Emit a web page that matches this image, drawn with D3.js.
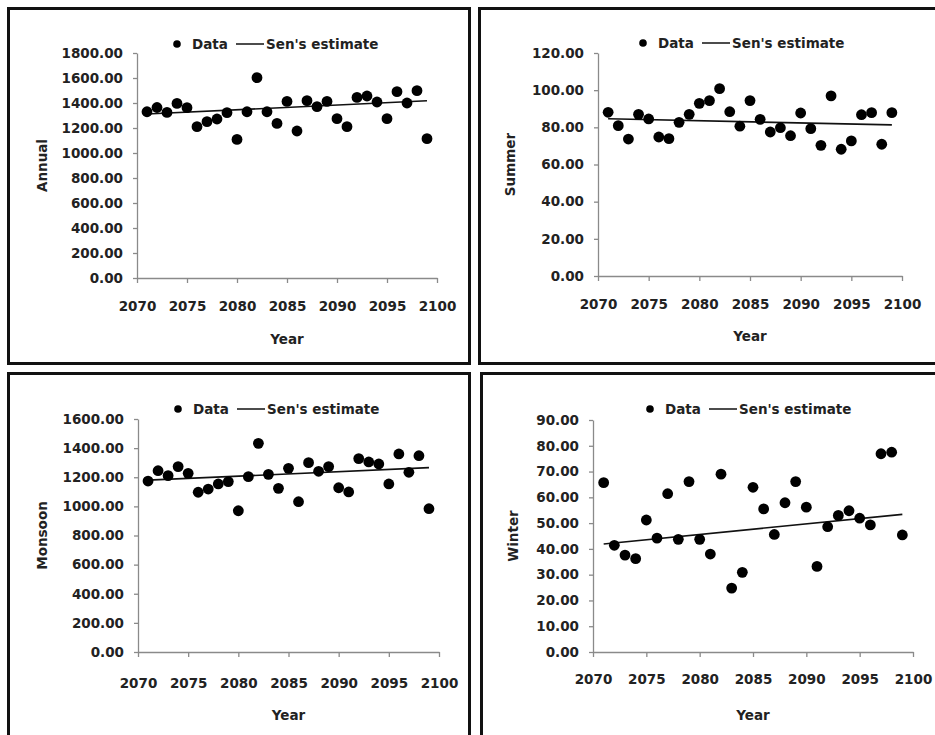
<!DOCTYPE html>
<html lang="en">
<head>
    <meta charset="UTF-8">
    <title>Sen's estimate - Annual, Summer, Monsoon, Winter</title>
    <script src="https://d3js.org/d3.v7.min.js"></script>
    <style>
        body { margin: 0; background: #fff; }
        svg { display: block; font-family: "DejaVu Sans", sans-serif; font-weight: bold; }
        .tick text { font-size: 13.5px; fill: #222; font-family: "DejaVu Sans", sans-serif; font-weight: bold; }
        .axis path, .axis line { stroke: #8a8a8a; stroke-width: 1.3px; }
    </style>
</head>
<body>
<svg width="935" height="735"></svg>
<script>
    // years 2071-2099
    const years = d3.range(2071, 2100);
    const xTicks = [2070, 2075, 2080, 2085, 2090, 2095, 2100];

    const annual = [1330, 1364, 1325, 1397, 1363, 1211, 1251, 1272, 1323, 1109,
                    1330, 1603, 1330, 1237, 1413, 1176, 1419, 1371, 1413, 1275,
                    1211, 1445, 1456, 1408, 1275, 1491, 1400, 1499, 1115];
    const summer = [88.1, 80.9, 73.7, 87.0, 84.5, 74.8, 73.9, 82.7, 87.0, 92.9,
                    94.4, 100.8, 88.4, 80.6, 94.4, 84.3, 77.5, 79.8, 75.5, 87.7,
                    79.3, 70.3, 96.9, 68.2, 72.7, 86.8, 87.9, 70.9, 87.9];
    const monsoon = [1174, 1245, 1211, 1273, 1227, 1097, 1119, 1154, 1170, 970,
                     1204, 1433, 1220, 1124, 1261, 1032, 1300, 1241, 1273, 1128,
                     1099, 1328, 1305, 1291, 1154, 1360, 1234, 1348, 984];
    const winter = [65.7, 41.4, 37.6, 36.2, 51.2, 44.2, 61.4, 43.7, 66.1, 43.7,
                    38.0, 69.0, 24.8, 30.9, 63.9, 55.5, 45.6, 57.9, 66.1, 56.2,
                    33.2, 48.6, 53.0, 54.8, 51.9, 49.3, 76.9, 77.5, 45.4];

    // Sen's estimate: value at 2071 and 2099
    const senAnnual = [1312, 1418];
    const senSummer = [84.6, 81.3];
    const senMonsoon = [1180, 1266];
    const senWinter = [41.9, 53.4];

    const ticksAnnual = d3.range(0, 1801, 200);
    const ticksSummer = d3.range(0, 121, 20);
    const ticksMonsoon = d3.range(0, 1601, 200);
    const ticksWinter = d3.range(0, 91, 10);

    const svg = d3.select("svg");

    // panel frames
    const frames = [
        [8.5, 8.5, 461, 355],
        [479.5, 8.5, 470, 355],
        [8.5, 373.5, 461, 380],
        [481.5, 373.5, 470, 380]
    ];
    svg.selectAll(".frame").data(frames).enter().append("rect")
        .attr("class", "frame")
        .attr("x", d => d[0]).attr("y", d => d[1])
        .attr("width", d => d[2]).attr("height", d => d[3])
        .attr("fill", "none").attr("stroke", "#111").attr("stroke-width", 3);

    const panels = [
        {title: "Annual", values: annual, sen: senAnnual, yTicks: ticksAnnual,
         left: 137, right: 437, top: 53, bottom: 278, legX: 177, legY: 44,
         titleX: 42, xPad: 18, yearY: 344},
        {title: "Summer", values: summer, sen: senSummer, yTicks: ticksSummer,
         left: 598, right: 902, top: 53, bottom: 276, legX: 643, legY: 43,
         titleX: 510, xPad: 18, yearY: 341},
        {title: "Monsoon", values: monsoon, sen: senMonsoon, yTicks: ticksMonsoon,
         left: 138, right: 439, top: 419, bottom: 652, legX: 178, legY: 409,
         titleX: 42, xPad: 21, yearY: 720},
        {title: "Winter", values: winter, sen: senWinter, yTicks: ticksWinter,
         left: 593, right: 913, top: 420, bottom: 652, legX: 650, legY: 409,
         titleX: 513, xPad: 17, yearY: 720}
    ];

    panels.forEach(p => {
        const g = svg.append("g");
        const x = d3.scaleLinear().domain([2070, 2100]).range([p.left, p.right]);
        const y = d3.scaleLinear().domain([0, d3.max(p.yTicks)]).range([p.bottom, p.top]);

        g.append("g").attr("class", "axis")
            .attr("transform", `translate(${p.left},0)`)
            .call(d3.axisLeft(y).tickValues(p.yTicks).tickFormat(d3.format(".2f"))
                .tickSize(4).tickSizeOuter(0).tickPadding(10));

        g.append("g").attr("class", "axis")
            .attr("transform", `translate(0,${p.bottom})`)
            .call(d3.axisBottom(x).tickValues(xTicks).tickFormat(d3.format("d"))
                .tickSize(5).tickSizeOuter(0).tickPadding(p.xPad));

        // Sen's estimate line
        g.append("line")
            .attr("x1", x(years[0])).attr("y1", y(p.sen[0]))
            .attr("x2", x(years[years.length - 1])).attr("y2", y(p.sen[1]))
            .attr("stroke", "#111").attr("stroke-width", 1.6);

        // data points
        g.selectAll(".dot")
            .data(p.values)
            .enter().append("circle")
            .attr("class", "dot")
            .attr("cx", (d, i) => x(years[i]))
            .attr("cy", d => y(d))
            .attr("r", 5.4)
            .attr("fill", "#000");

        // axis titles
        g.append("text")
            .attr("x", (p.left + p.right) / 2).attr("y", p.yearY)
            .attr("text-anchor", "middle").attr("font-size", "13.5px").attr("fill", "#222")
            .text("Year");
        g.append("text")
            .attr("transform", `translate(${p.titleX},${(p.top + p.bottom) / 2}) rotate(-90)`)
            .attr("text-anchor", "middle").attr("dy", "0.35em")
            .attr("font-size", "13.5px").attr("fill", "#222")
            .text(p.title);

        // legend
        const leg = g.append("g").attr("transform", `translate(${p.legX},${p.legY})`);
        leg.append("circle").attr("cx", 0).attr("cy", 0).attr("r", 3.8).attr("fill", "#000");
        leg.append("text").attr("x", 15).attr("dy", "0.36em")
            .attr("font-size", "13.5px").attr("fill", "#222").text("Data");
        leg.append("line").attr("x1", 59).attr("x2", 87).attr("y1", 0).attr("y2", 0)
            .attr("stroke", "#111").attr("stroke-width", 1.5);
        leg.append("text").attr("x", 89).attr("dy", "0.36em")
            .attr("font-size", "13.5px").attr("fill", "#222").text("Sen's estimate");
    });
</script>
</body>
</html>
